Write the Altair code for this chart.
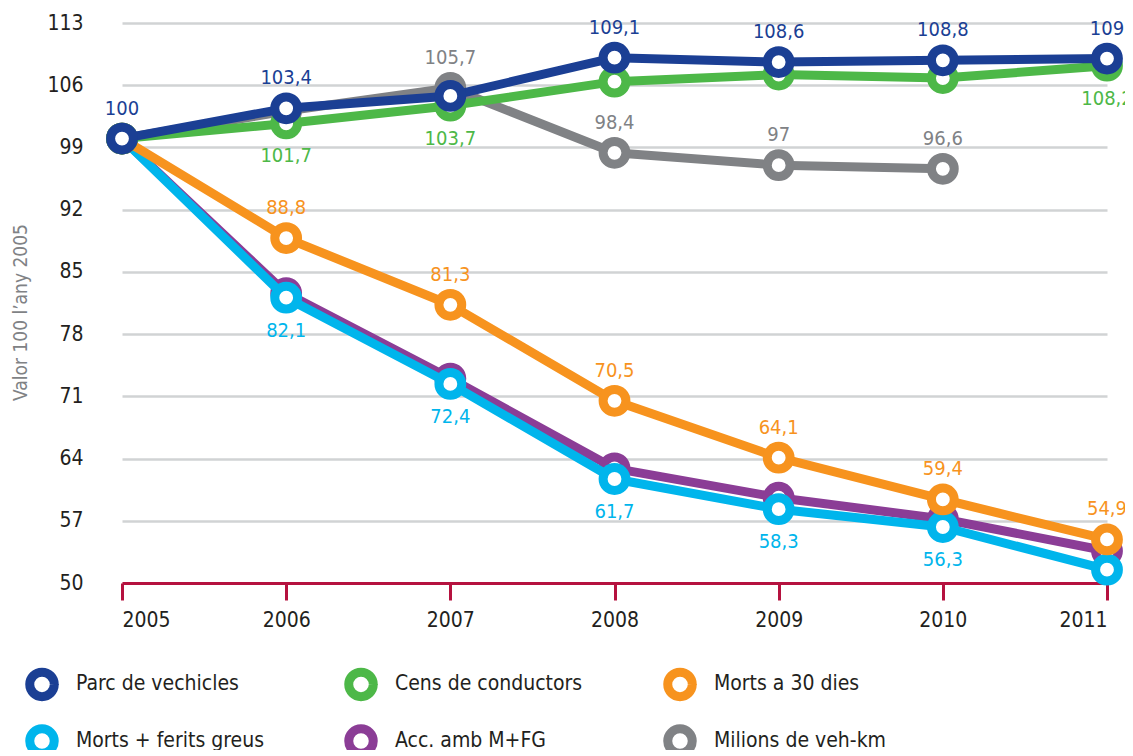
import altair as alt
import pandas as pd

years = [2005, 2006, 2007, 2008, 2009, 2010, 2011]
series_names = ["Parc de vechicles", "Cens de conductors", "Morts a 30 dies",
                "Morts + ferits greus", "Acc. amb M+FG", "Milions de veh-km"]
colors = ["#1B3F94", "#4DB848", "#F7931E", "#00B5EC", "#8B3D96", "#808285"]

parc = [100, 103.4, 104.8, 109.1, 108.6, 108.8, 109.0]
cens = [100, 101.7, 103.7, 106.4, 107.2, 106.8, 108.2]
morts30 = [100, 88.8, 81.3, 70.5, 64.1, 59.4, 54.9]
morts_fg = [100, 82.1, 72.4, 61.7, 58.3, 56.3, 51.5]
acc = [100, 82.6, 73.0, 62.9, 59.6, 57.2, 53.6]
vehkm = [100, 103.1, 105.7, 98.4, 97.0, 96.6, None]

parc_lbl = ["100", "103,4", "", "109,1", "108,6", "108,8", "109"]
cens_lbl = ["", "101,7", "103,7", "", "", "", "108,2"]
morts30_lbl = ["", "88,8", "81,3", "70,5", "64,1", "59,4", "54,9"]
morts_fg_lbl = ["", "82,1", "72,4", "61,7", "58,3", "56,3", ""]
acc_lbl = ["", "", "", "", "", "", ""]
vehkm_lbl = ["", "", "105,7", "98,4", "97", "96,6", ""]

y_ticks = [50, 57, 64, 71, 78, 85, 92, 99, 106, 113]

values = [parc, cens, morts30, morts_fg, acc, vehkm]
labels = [parc_lbl, cens_lbl, morts30_lbl, morts_fg_lbl, acc_lbl, vehkm_lbl]
label_above = [True, False, True, False, True, True]

rows = []
for name, vals, lbls in zip(series_names, values, labels):
    for yr, v, l in zip(years, vals, lbls):
        if v is not None:
            rows.append({"year": yr, "serie": name, "value": v, "label": l})
df = pd.DataFrame(rows)

FONT = "Liberation Sans Narrow, DejaVu Sans Condensed, Roboto, sans-serif"
RED = "#B5123F"

x_enc = alt.X("year:Q", scale=alt.Scale(domain=[2005, 2011], nice=False),
              axis=alt.Axis(values=years, format="d", title=None, grid=False,
                            domainColor=RED, domainWidth=3, tickColor=RED,
                            tickWidth=3, tickSize=17, labelFontSize=21,
                            labelColor="#231F20", labelPadding=9, labelFont=FONT))
y_enc = alt.Y("value:Q", scale=alt.Scale(domain=[50, 113], nice=False, zero=False),
              axis=alt.Axis(values=y_ticks, title="Valor 100 l’any 2005",
                            domain=False, ticks=False, labelPadding=39,
                            labelFontSize=21, labelColor="#231F20", labelFont=FONT,
                            gridColor="#D1D3D4", gridWidth=2.5,
                            titleFont=FONT, titleFontSize=19, titleColor="#808285",
                            titleFontWeight="normal", titleAngle=-90,
                            titleX=-102, titleY=289, titleAlign="center",
                            titleBaseline="middle"))
legend = alt.Legend(title=None, orient="none", legendX=-97, legendY=644,
                    direction="horizontal", columns=3, symbolType="circle",
                    symbolSize=600, symbolStrokeWidth=9, symbolFillColor="white",
                    labelFontSize=21, labelFont=FONT, labelColor="#231F20",
                    labelOffset=17, rowPadding=-5, columnPadding=66,
                    gridAlign="all", labelLimit=400)
color_enc = alt.Color("serie:N", scale=alt.Scale(domain=series_names, range=colors),
                      legend=legend)

draw_order = ["Acc. amb M+FG", "Morts + ferits greus", "Morts a 30 dies",
              "Milions de veh-km", "Cens de conductors", "Parc de vechicles"]

layers = []
for s in draw_order:
    base = alt.Chart(df).transform_filter(alt.datum.serie == s)
    line = base.mark_line(strokeWidth=9, strokeJoin="round").encode(
        x=x_enc, y=y_enc, color=color_enc)
    pts = base.mark_point(shape="circle", filled=False, fill="white", fillOpacity=1,
                          strokeWidth=9, size=520, opacity=1).encode(
        x=x_enc, y=y_enc, color=color_enc)
    layers += [line, pts]

for s, c, above in zip(series_names, colors, label_above):
    base = alt.Chart(df).transform_filter(
        (alt.datum.serie == s) & (alt.datum.label != ""))
    txt = base.mark_text(dy=-30 if above else 33, fontSize=20, font=FONT,
                         color=c).encode(x=x_enc, y=y_enc, text="label:N")
    layers.append(txt)

chart = alt.layer(*layers).properties(
    width=985, height=560,
    autosize=alt.AutoSizeParams(type="none"),
    padding={"left": 114, "top": 15, "right": 18, "bottom": 167},
).configure(font=FONT).configure_view(stroke=None)

chart.save("out.html", embed_options={"renderer": "svg", "actions": False})
